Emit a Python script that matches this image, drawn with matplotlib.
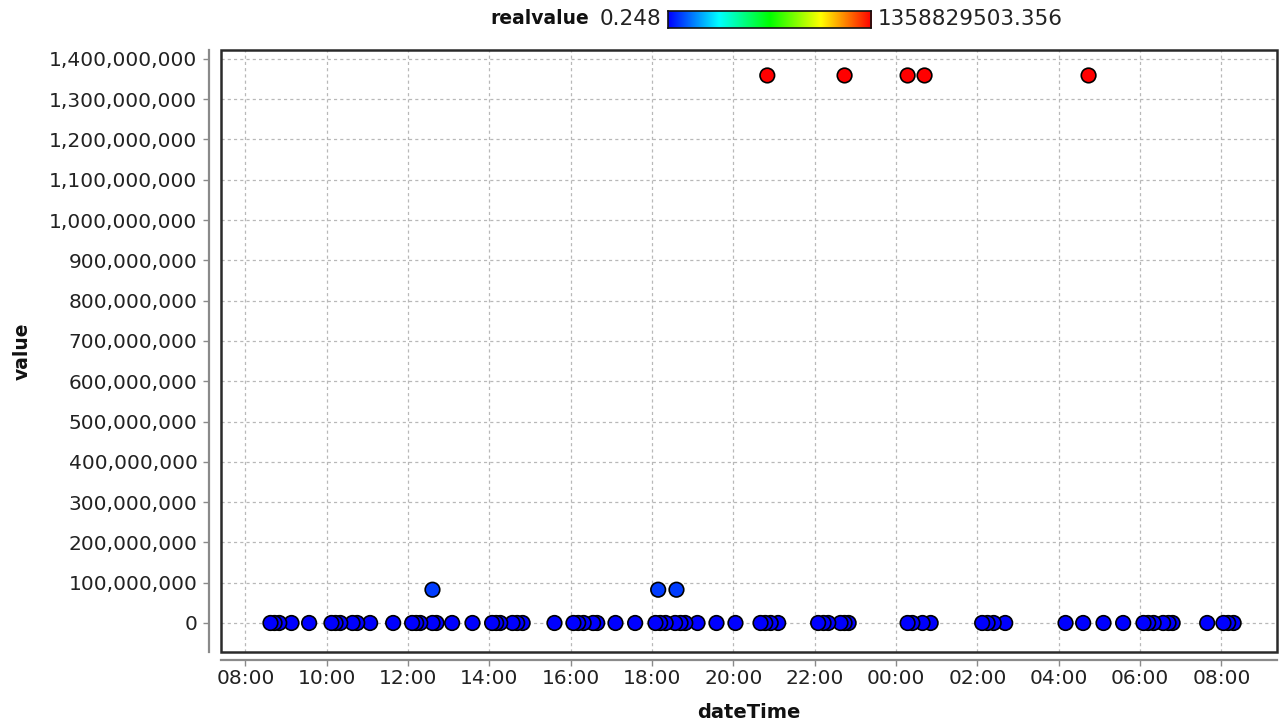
import matplotlib
matplotlib.use("Agg")
import matplotlib.pyplot as plt
import matplotlib.dates as mdates
from matplotlib.colors import LinearSegmentedColormap, Normalize
from matplotlib.ticker import FuncFormatter
from matplotlib.patches import Rectangle
import numpy as np
import pandas as pd

# ---- data -------------------------------------------------------------
low_times = [
    "2013-01-21 08:37", "2013-01-21 08:43", "2013-01-21 08:50",
    "2013-01-21 09:08", "2013-01-21 09:34",
    "2013-01-21 10:07", "2013-01-21 10:13", "2013-01-21 10:20",
    "2013-01-21 10:38", "2013-01-21 10:45", "2013-01-21 11:04",
    "2013-01-21 11:38",
    "2013-01-21 12:06", "2013-01-21 12:12", "2013-01-21 12:18",
    "2013-01-21 12:36", "2013-01-21 12:42",
    "2013-01-21 13:05", "2013-01-21 13:35",
    "2013-01-21 14:04", "2013-01-21 14:10", "2013-01-21 14:16",
    "2013-01-21 14:34", "2013-01-21 14:41", "2013-01-21 14:49",
    "2013-01-21 15:36",
    "2013-01-21 16:04", "2013-01-21 16:11", "2013-01-21 16:19",
    "2013-01-21 16:33", "2013-01-21 16:39",
    "2013-01-21 17:06", "2013-01-21 17:35",
    "2013-01-21 18:05", "2013-01-21 18:12", "2013-01-21 18:20",
    "2013-01-21 18:34", "2013-01-21 18:42", "2013-01-21 18:49",
    "2013-01-21 19:07", "2013-01-21 19:35", "2013-01-21 20:03",
    "2013-01-21 20:40", "2013-01-21 20:47", "2013-01-21 20:55",
    "2013-01-21 21:06",
    "2013-01-21 22:05", "2013-01-21 22:13", "2013-01-21 22:20",
    "2013-01-21 22:38", "2013-01-21 22:44", "2013-01-21 22:50",
    "2013-01-22 00:17", "2013-01-22 00:24", "2013-01-22 00:39",
    "2013-01-22 00:51",
    "2013-01-22 02:07", "2013-01-22 02:15", "2013-01-22 02:24",
    "2013-01-22 02:41",
    "2013-01-22 04:10", "2013-01-22 04:36", "2013-01-22 05:06",
    "2013-01-22 05:35",
    "2013-01-22 06:05", "2013-01-22 06:12", "2013-01-22 06:20",
    "2013-01-22 06:34", "2013-01-22 06:42", "2013-01-22 06:48",
    "2013-01-22 07:39",
    "2013-01-22 08:03", "2013-01-22 08:10", "2013-01-22 08:18",
]
low_values = [
    0.248, 3.1, 5.6, 2.4, 7.9, 1.2, 4.5, 9.3, 2.8, 6.1, 3.7, 8.2,
    1.9, 4.4, 2.6, 5.8, 3.3, 7.1, 2.2, 6.6, 1.4, 4.9, 3.9, 8.8,
    2.1, 5.2, 1.7, 6.9, 3.4, 2.9, 7.4, 4.1, 1.6, 5.5, 3.0, 8.5,
    2.3, 6.3, 4.7, 1.8, 7.7, 3.6, 5.1, 2.5, 9.0, 4.2, 1.3, 6.8,
    3.2, 5.9, 2.7, 7.3, 4.6, 1.1, 8.1, 3.5, 6.2, 2.0, 5.4, 4.0,
    7.6, 1.5, 3.8, 6.5, 2.4, 8.7, 4.3, 5.7, 1.0, 3.1, 6.0, 2.9,
    4.8, 1.9,
]
mid_times = ["2013-01-21 12:36", "2013-01-21 18:09", "2013-01-21 18:36"]
mid_values = [82600000.0, 82600000.0, 82600000.0]
high_times = ["2013-01-21 20:50", "2013-01-21 22:44", "2013-01-22 00:17",
              "2013-01-22 00:42", "2013-01-22 04:44"]
high_values = [1358829503.356] * 5

value_min = 0.248
value_max = 1358829503.356

x_start = "2013-01-21 07:24"
x_end = "2013-01-22 09:22"
y_ticks = list(range(0, 1400000001, 100000000))

# ---- figure -------------------------------------------------------------
times = pd.to_datetime(low_times + mid_times + high_times)
values = np.array(low_values + mid_values + high_values)

rainbow = LinearSegmentedColormap.from_list(
    "rainbow_scale",
    [(0.0, "#0000ff"), (0.25, "#00ffff"), (0.5, "#00ff00"),
     (0.75, "#ffff00"), (1.0, "#ff0000")])
norm = Normalize(vmin=value_min, vmax=value_max)

plt.rcParams["font.family"] = ["DejaVu Sans"]

fig = plt.figure(figsize=(12.83, 7.25), dpi=100, facecolor="white")
ax = fig.add_axes([221 / 1283, 1 - 652 / 725, (1277 - 221) / 1283, (652 - 50) / 725])
ax.set_facecolor("white")

# draw right-most points first so that clustered points overlap leftwards
tnum = mdates.date2num(times)
order = np.argsort(tnum)[::-1]
ax.scatter(tnum[order], values[order], c=values[order], cmap=rainbow, norm=norm,
           s=110, edgecolors="#000000", linewidths=1.2, zorder=3)

ax.set_xlim(mdates.date2num(pd.Timestamp(x_start)), mdates.date2num(pd.Timestamp(x_end)))
ax.set_ylim(-72000000, 1422000000)

ax.xaxis.set_major_locator(mdates.HourLocator(byhour=range(0, 24, 2)))
ax.xaxis.set_major_formatter(mdates.DateFormatter("%H:%M"))
ax.set_yticks(y_ticks)
ax.yaxis.set_major_formatter(FuncFormatter(lambda v, p: f"{int(round(v)):,}"))

ax.grid(True, color="#b8b8b8", linestyle=(0, (2.5, 2.5)), linewidth=0.9, zorder=1)

# offset axis lines, plot outlined by its own frame
for side in ("top", "right"):
    ax.spines[side].set_visible(False)
ax.spines["left"].set_position(("outward", 9))
ax.spines["bottom"].set_position(("outward", 6))
for side in ("left", "bottom"):
    ax.spines[side].set_color("#8a8a8a")
    ax.spines[side].set_linewidth(1.6)
ax.tick_params(axis="both", direction="out", length=4, width=1, color="#8a8a8a",
               labelsize=14.5, labelcolor="#222222")
ax.tick_params(axis="y", pad=4)
ax.tick_params(axis="x", pad=2.5)
ax.add_patch(Rectangle((0, 0), 1, 1, transform=ax.transAxes, fill=False,
                       edgecolor="#2a2a2a", linewidth=1.8, clip_on=False, zorder=6))

fig.text(22 / 1283, 1 - 351 / 725, "value", rotation=90, ha="center", va="center",
         fontsize=13.5, fontweight="bold", color="#111111")
fig.text(749 / 1283, 1 - 713 / 725, "dateTime", ha="center", va="center",
         fontsize=14, fontweight="bold", color="#111111")

# colour scale legend
legend_y = 1 - 19 / 725
fig.text(589 / 1283, legend_y, "realvalue", ha="right", va="center",
         fontsize=13.5, fontweight="bold", color="#111111")
fig.text(600 / 1283, legend_y, f"{value_min:g}", ha="left", va="center",
         fontsize=15.5, color="#222222")
fig.text(878 / 1283, legend_y, f"{value_max:.3f}", ha="left", va="center",
         fontsize=15.5, color="#222222")
cax = fig.add_axes([668 / 1283, 1 - 28 / 725, (871 - 668) / 1283, 17 / 725])
cax.imshow(np.linspace(0, 1, 256)[None, :], aspect="auto", cmap=rainbow,
           extent=(0, 1, 0, 1))
cax.set_xticks([])
cax.set_yticks([])
for sp in cax.spines.values():
    sp.set_color("#111111")
    sp.set_linewidth(1.2)

fig.savefig("out.png", dpi=100, facecolor="white")
